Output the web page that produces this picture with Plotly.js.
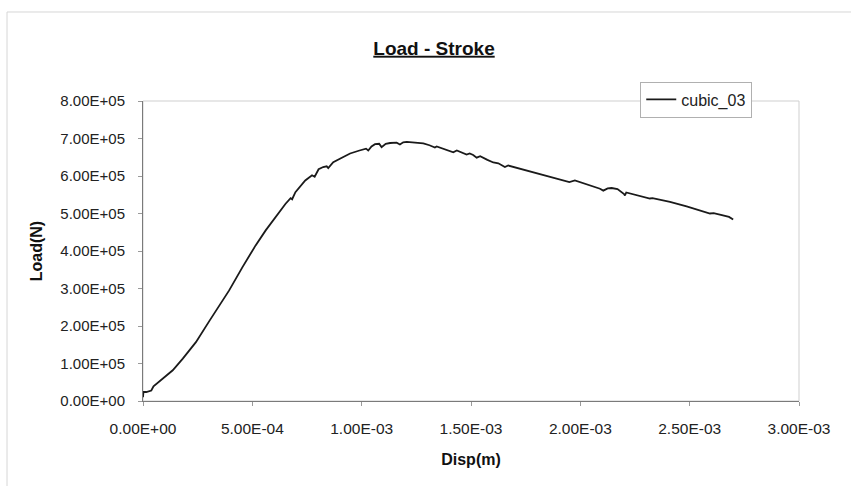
<!DOCTYPE html>
<html>
<head>
<meta charset="utf-8">
<script src="https://cdn.plot.ly/plotly-3.0.1.min.js"></script>
<style>
  html, body { margin: 0; padding: 0; background: #ffffff; }
  #chart { width: 851px; height: 486px; }
</style>
</head>
<body>
<div id="chart"></div>
<script>
// Series: cubic_03 (displacement in m, load in N)
const disp = [
  0, 2e-6, 1.5e-5, 3.8e-5, 4.8e-5, 9.1e-5, 1.36e-4, 1.82e-4, 2.42e-4, 3.03e-4,
  3.48e-4, 3.94e-4, 4.55e-4, 5.15e-4, 5.61e-4, 6.06e-4, 6.52e-4, 6.75e-4, 6.82e-4, 6.97e-4,
  7.42e-4, 7.73e-4, 7.85e-4, 8.03e-4, 8.24e-4, 8.40e-4, 8.47e-4, 8.70e-4, 9.10e-4, 9.47e-4,
  9.90e-4, 1.020e-3, 1.030e-3, 1.045e-3, 1.061e-3, 1.080e-3, 1.091e-3, 1.110e-3, 1.130e-3, 1.160e-3,
  1.175e-3, 1.190e-3, 1.206e-3, 1.240e-3, 1.282e-3, 1.310e-3, 1.335e-3, 1.343e-3, 1.370e-3, 1.405e-3,
  1.419e-3, 1.435e-3, 1.460e-3, 1.480e-3, 1.494e-3, 1.510e-3, 1.526e-3, 1.542e-3, 1.575e-3, 1.602e-3,
  1.625e-3, 1.655e-3, 1.670e-3, 1.739e-3, 1.815e-3, 1.892e-3, 1.950e-3, 1.975e-3, 2.044e-3, 2.090e-3,
  2.105e-3, 2.125e-3, 2.143e-3, 2.170e-3, 2.200e-3, 2.204e-3, 2.210e-3, 2.273e-3, 2.318e-3, 2.330e-3,
  2.410e-3, 2.486e-3, 2.555e-3, 2.593e-3, 2.610e-3, 2.653e-3, 2.680e-3, 2.699e-3
];
const load = [
  10000, 24000, 24000, 28000, 39000, 60000, 82000, 113000, 157000, 213000,
  253000, 295000, 357000, 415000, 455000, 491000, 526000, 541000, 538000, 557000,
  588000, 602000, 598000, 618000, 624000, 626000, 621000, 637000, 650000, 660000,
  668000, 673000, 668000, 679000, 685000, 686000, 677000, 686000, 688000, 689000,
  684000, 690000, 691000, 690000, 687000, 682000, 676000, 679000, 674000, 667000,
  663000, 668000, 663000, 657000, 660000, 656000, 649000, 653000, 643000, 636000,
  634000, 624000, 628000, 617000, 604000, 593000, 584000, 588000, 575000, 566000,
  561000, 567000, 568000, 565000, 552000, 548000, 556000, 547000, 540000, 541000,
  531000, 519000, 507000, 500000, 501000, 496000, 491000, 484000
];
const seriesName = "cubic_03";

// Axis ticks
const xTickVals = [0, 5e-4, 1e-3, 1.5e-3, 2e-3, 2.5e-3, 3e-3];
const xTickText = ["0.00E+00", "5.00E-04", "1.00E-03", "1.50E-03", "2.00E-03", "2.50E-03", "3.00E-03"];
const yTickVals = [0, 1e5, 2e5, 3e5, 4e5, 5e5, 6e5, 7e5, 8e5];
const yTickText = ["0.00E+00", "1.00E+05", "2.00E+05", "3.00E+05", "4.00E+05", "5.00E+05", "6.00E+05", "7.00E+05", "8.00E+05"];

const FONT = "Arial, 'Liberation Sans', sans-serif";

const trace = {
  x: disp, y: load, name: seriesName, type: "scatter", mode: "lines",
  line: { color: "#1a1a1a", width: 1.8 }, showlegend: true
};

const layout = {
  width: 851, height: 486,
  paper_bgcolor: "#ffffff", plot_bgcolor: "#ffffff",
  margin: { l: 143, r: 52, t: 101, b: 85 },
  font: { family: FONT, size: 15, color: "#222" },
  title: {
    text: "<b><u>Load - Stroke</u></b>",
    x: 0.51, xanchor: "center", y: 0.901, yanchor: "middle",
    font: { family: FONT, size: 19, color: "#111" }
  },
  xaxis: {
    range: [0, 3e-3], tickmode: "array", tickvals: xTickVals, ticktext: xTickText,
    showgrid: false, zeroline: false, showline: true, linecolor: "#7a7a7a", linewidth: 1,
    ticks: "outside", ticklen: 4, tickcolor: "#9a9a9a", ticklabelstandoff: 9,
    tickfont: { family: FONT, size: 15.5, color: "#222" },
    title: { text: "<b>Disp(m)</b>", font: { family: FONT, size: 16, color: "#111" }, standoff: 18 },
    automargin: false, fixedrange: true
  },
  yaxis: {
    range: [0, 8e5], tickmode: "array", tickvals: yTickVals, ticktext: yTickText,
    showgrid: false, zeroline: false, showline: true, linecolor: "#7a7a7a", linewidth: 1,
    ticks: "outside", ticklen: 4, tickcolor: "#9a9a9a", ticklabelstandoff: 10,
    tickfont: { family: FONT, size: 15, color: "#222" },
    title: { text: "<b>Load(N)</b>", font: { family: FONT, size: 16, color: "#111" }, standoff: 13 },
    automargin: false, fixedrange: true
  },
  legend: {
    x: 0.758, y: 1.065, xanchor: "left", yanchor: "top",
    bgcolor: "#ffffff", bordercolor: "#b0b0b0", borderwidth: 1,
    font: { family: FONT, size: 16, color: "#222" }
  },
  shapes: [
    { type: "rect", xref: "paper", yref: "paper", x0: 0, x1: 1, y0: 0, y1: 1,
      line: { color: "#cfcfcf", width: 1 }, layer: "below" },
    { type: "rect", xref: "paper", yref: "paper", x0: -0.2073, x1: 1.1, y0: -0.32, y1: 1.2967,
      line: { color: "#d6d6d6", width: 1 }, layer: "below" }
  ]
};

Plotly.newPlot("chart", [trace], layout, { staticPlot: true, displayModeBar: false });
</script>
</body>
</html>
